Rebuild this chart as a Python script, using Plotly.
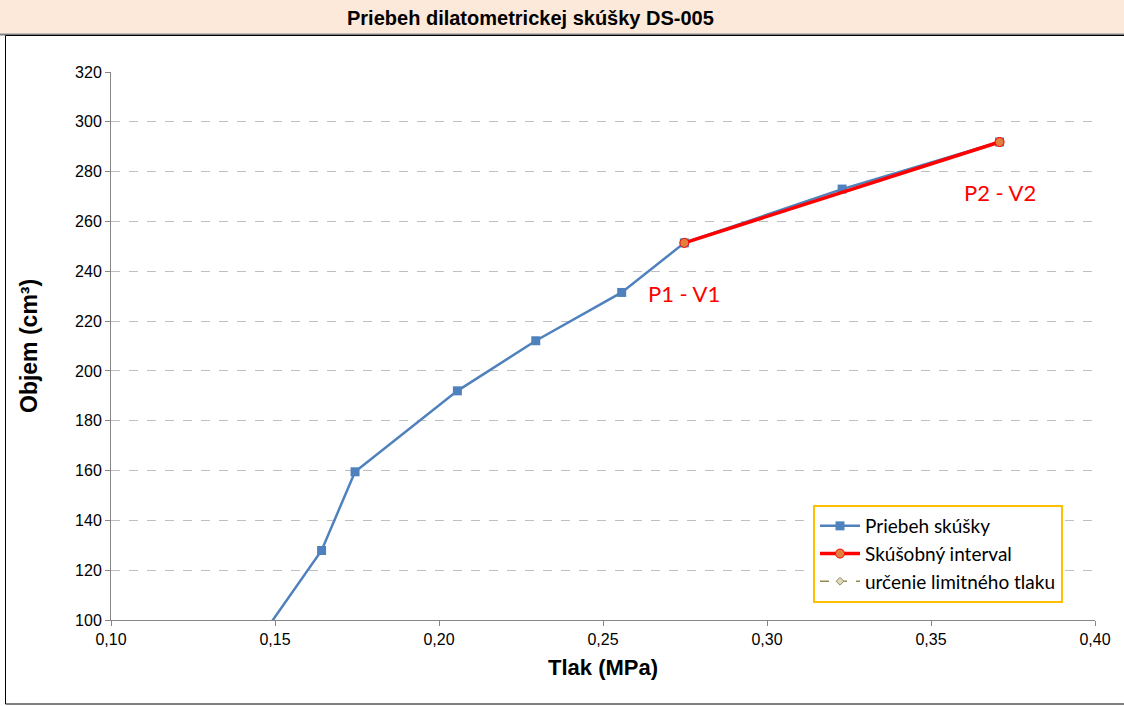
import plotly.graph_objects as go

# Dilatometer test DS-005: pressure (MPa) vs. volume (cm3)
tlak = [0.1435, 0.1642, 0.1744, 0.2056, 0.2295, 0.2557, 0.2748, 0.3229, 0.3709]
objem = [89.0, 127.9, 159.5, 192.0, 212.1, 231.5, 251.4, 273.0, 291.9]

# Test interval P1-V1 .. P2-V2
interval_tlak = [0.2748, 0.3709]
interval_objem = [251.4, 291.9]
interval_labels = ["P1 - V1", "P2 - V2"]

x_ticks = [0.10, 0.15, 0.20, 0.25, 0.30, 0.35, 0.40]
y_ticks = [100, 120, 140, 160, 180, 200, 220, 240, 260, 280, 300, 320]

W, H = 1124, 706
L, R, T, B = 111, 1095, 72, 620  # plot area in pixels


def px(xp):
    return (xp - L) / (R - L)


def py(yp):
    return (B - yp) / (B - T)


fig = go.Figure()

fig.add_trace(go.Scatter(
    x=tlak, y=objem, mode="lines+markers", name="Priebeh skúšky",
    line=dict(color="#4F81BD", width=2.5),
    marker=dict(symbol="square", size=9, color="#4F81BD"),
))

fig.add_trace(go.Scatter(
    x=interval_tlak, y=interval_objem, mode="lines+markers", name="Skúšobný interval",
    line=dict(color="#FF0000", width=3.5),
    marker=dict(symbol="circle", size=9, color="#E3803D",
                line=dict(color="#FF0000", width=1)),
))

fig.add_trace(go.Scatter(
    x=[None], y=[None], mode="lines+markers", name="určenie limitného tlaku",
    line=dict(color="#948A54", width=1.5, dash="dash"),
    marker=dict(symbol="diamond", size=6, color="#DDD9C3",
                line=dict(color="#948A54", width=1)),
))

for xv, yv, txt in zip(interval_tlak, interval_objem, interval_labels):
    fig.add_annotation(x=xv, y=yv, text=txt, showarrow=False, yshift=-51,
                       font=dict(family="Lato", size=22, color="#FF0000"))

shapes = [
    # title band
    dict(type="rect", xref="paper", yref="paper", x0=px(0), x1=px(W + 5),
         y0=py(0 - 5), y1=py(33.5), fillcolor="#FDE9D9", line=dict(width=0),
         layer="below"),
    dict(type="line", xref="paper", yref="paper", x0=px(0), x1=px(W + 5),
         y0=py(34.5), y1=py(34.5), line=dict(color="#7F7F7F", width=2)),
    # chart frame
    dict(type="rect", xref="paper", yref="paper", x0=px(5.5), x1=px(W + 10),
         y0=py(35.5), y1=py(704), line=dict(color="#000000", width=1)),
]

fig.add_annotation(xref="paper", yref="paper", x=px(530), y=py(18),
                   text="<b>Priebeh dilatometrickej skúšky DS-005</b>",
                   showarrow=False, xanchor="center", yanchor="middle",
                   font=dict(family="Liberation Sans", size=20, color="#000000"))
fig.add_annotation(xref="paper", yref="paper", x=px(29), y=py(346),
                   text="<b>Objem (cm³)</b>", textangle=-90,
                   showarrow=False, xanchor="center", yanchor="middle",
                   font=dict(family="Liberation Sans", size=23, color="#000000"))
fig.add_annotation(xref="paper", yref="paper", x=px(603), y=py(668),
                   text="<b>Tlak (MPa)</b>",
                   showarrow=False, xanchor="center", yanchor="middle",
                   font=dict(family="Liberation Sans", size=22, color="#000000"))

fig.update_layout(
    width=W, height=H,
    margin=dict(l=L, r=W - R, t=T, b=H - B),
    paper_bgcolor="white", plot_bgcolor="white",
    separators=", ",
    shapes=shapes,
    hovermode=False,
    showlegend=True,
    legend=dict(x=px(813), y=py(505), xanchor="left", yanchor="top",
                bgcolor="white", bordercolor="#FFC000", borderwidth=2,
                font=dict(family="Lato", size=19, color="#000000"),
                itemwidth=40, tracegroupgap=0),
    xaxis=dict(range=[0.10, 0.40], tickvals=x_ticks, tickformat=".2f",
               showgrid=False, zeroline=False, showline=True,
               linecolor="#868686", linewidth=1, ticks="outside",
               ticklen=5, tickcolor="#868686",
               tickfont=dict(family="Liberation Sans", size=16, color="#000000")),
    yaxis=dict(range=[100, 320], tickvals=y_ticks,
               showgrid=True, gridcolor="#BFBFBF", griddash="dash", gridwidth=1,
               zeroline=False, showline=True,
               linecolor="#868686", linewidth=1, ticks="outside",
               ticklen=5, tickcolor="#868686",
               tickfont=dict(family="Liberation Sans", size=16, color="#000000")),
)

fig.write_html("out.html")
